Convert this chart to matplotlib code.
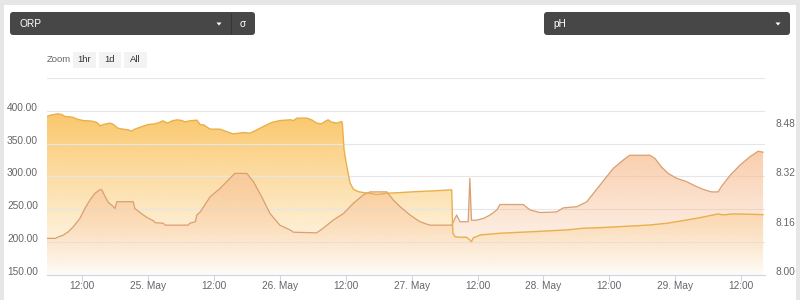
import numpy as np
import pandas as pd
import matplotlib
matplotlib.use('Agg')
import matplotlib.pyplot as plt
import matplotlib.dates as mdates
import matplotlib.ticker as mticker
import matplotlib.transforms as mtransforms
from matplotlib.patches import FancyBboxPatch, Polygon, Rectangle

plt.rcParams['font.family'] = ['Liberation Sans', 'DejaVu Sans']

# Data (hours counted from 24 May 00:00)
orp_hours = [5.6, 6.2, 7.6, 8.3, 8.9, 10.2, 11.1, 12.2, 13.8, 14.7, 15.3, 15.8, 17.1, 17.6, 18.5,
             19.4, 20.4, 21.0, 21.6, 22.9, 24.0, 25.3, 26.2, 26.7, 27.5, 28.4, 29.3, 30.2, 30.7, 31.6,
             32.9, 33.5, 34.1, 35.3, 37.1, 38.3, 39.5, 41.4, 42.6, 43.8, 45.0, 46.5, 48.0, 49.9, 50.5,
             51.1, 52.9, 53.8, 54.7, 55.6, 56.2, 56.8, 57.4, 58.4, 59.3, 59.4, 59.7, 60.2, 60.8, 61.4,
             62.3, 63.2, 64.4, 65.6, 67.5, 69.9, 72.9, 75.9, 79.0, 79.3, 79.5, 79.9, 80.8, 82.0, 82.6,
             82.9, 83.2, 84.5, 88.1, 94.1, 100.2, 103.2, 106.3, 112.3, 115.4, 118.5, 121.4, 124.5, 127.8,
             128.7, 130.5, 133.6, 136.0]
orp_values = [391.3, 393.4, 395.4, 394.4, 391.3, 390.4, 387.3, 385.2, 384.3, 382.2, 377.1, 379.1, 381.3, 379.7, 373.6,
              372.1, 371.0, 369.1, 372.1, 376.1, 379.1, 380.2, 382.8, 384.8, 381.3, 384.8, 386.3, 385.2, 383.2, 384.8,
              385.8, 379.0, 378.7, 372.1, 372.1, 368.4, 364.9, 366.9, 366.0, 371.0, 376.1, 382.2, 385.2, 386.3, 385.2,
              388.9, 388.9, 386.3, 381.3, 380.2, 383.7, 386.3, 382.8, 381.3, 383.7, 378.7, 340.5, 315.1, 289.8, 280.6,
              277.0, 275.5, 274.5, 272.5, 274.5, 275.5, 277.0, 278.1, 279.6, 279.6, 214.0, 208.4, 207.5, 207.5, 203.4,
              200.8, 206.4, 211.0, 213.6, 216.0, 218.6, 221.2, 222.1, 224.7, 226.2, 228.8, 232.8, 237.3, 243.0,
              241.5, 243.0, 242.5, 241.9]

ph_hours = [5.6, 7.1, 7.7, 8.6, 9.5, 10.4, 11.6, 12.5, 13.4, 14.3, 15.3, 15.6, 16.2, 16.8, 17.4,
            18.0, 18.3, 21.3, 21.6, 22.9, 23.8, 25.0, 25.3, 26.8, 27.1, 31.3, 31.6, 32.6, 32.9, 33.5,
            35.3, 37.1, 38.9, 39.8, 42.0, 43.2, 44.7, 46.2, 48.0, 49.9, 50.5, 54.7, 55.9, 57.7, 59.6,
            61.4, 63.2, 64.4, 67.5, 68.7, 69.9, 71.7, 73.5, 75.3, 79.3, 80.2, 80.8, 82.3, 82.6, 82.9,
            83.8, 85.1, 86.3, 87.5, 88.1, 92.3, 93.6, 95.4, 98.4, 99.6, 102.1, 103.9, 106.3, 107.5, 108.7,
            110.5, 111.7, 115.4, 116.3, 117.5, 118.7, 120.3, 122.1, 123.9, 125.1, 126.6, 127.8, 128.4, 130.0,
            131.8, 133.6, 135.1, 136.0]
ph_values = [8.119, 8.119, 8.124, 8.130, 8.141, 8.157, 8.184, 8.216, 8.243, 8.265, 8.278, 8.276, 8.254, 8.235, 8.227,
             8.216, 8.238, 8.238, 8.216, 8.198, 8.187, 8.176, 8.170, 8.168, 8.162, 8.162, 8.168, 8.173, 8.195, 8.205,
             8.254, 8.281, 8.314, 8.330, 8.330, 8.303, 8.254, 8.200, 8.162, 8.146, 8.139, 8.137, 8.152, 8.178, 8.200,
             8.233, 8.260, 8.270, 8.270, 8.243, 8.222, 8.195, 8.173, 8.162, 8.162, 8.195, 8.173, 8.173, 8.314, 8.178,
             8.178, 8.184, 8.195, 8.211, 8.229, 8.229, 8.211, 8.203, 8.205, 8.218, 8.222, 8.238, 8.292, 8.319, 8.346,
             8.373, 8.389, 8.389, 8.379, 8.351, 8.330, 8.314, 8.303, 8.287, 8.278, 8.270, 8.270, 8.287, 8.324,
             8.357, 8.384, 8.402, 8.399]

orp_ticks = [150, 200, 250, 300, 350, 400, 450]
ph_ticks = [8.00, 8.16, 8.32, 8.48, 8.64]

start = pd.Timestamp('2021-05-24')
orp_x = mdates.date2num(start + pd.to_timedelta(orp_hours, unit='h'))
ph_x = mdates.date2num(start + pd.to_timedelta(ph_hours, unit='h'))
orp_y = np.array(orp_values)
ph_y = np.array(ph_values)

x_min = mdates.date2num(start + pd.Timedelta(hours=5.6))
x_max = mdates.date2num(start + pd.Timedelta(hours=136.35))


def gradient_area(axis, x, y, base, rgb, a_top, a_bot, z):
    poly = axis.fill_between(x, y, base, facecolor='none', edgecolor='none')
    path = poly.get_paths()[0]
    grad = np.zeros((256, 1, 4))
    grad[:, :, :3] = np.array(rgb) / 255.0
    grad[:, 0, 3] = np.linspace(a_top, a_bot, 256)
    im = axis.imshow(grad, extent=[x.min(), x.max(), base, y.max()], origin='upper',
                     aspect='auto', zorder=z, interpolation='bilinear')
    im.set_clip_path(path, transform=axis.transData)


fig = plt.figure(figsize=(8, 3), dpi=100)
fig.patch.set_facecolor('#e6e6e6')

# page / widgets layer in pixel coordinates
ui = fig.add_axes([0, 0, 1, 1], zorder=0)
ui.set_xlim(0, 800)
ui.set_ylim(300, 0)
ui.axis('off')
ui.add_patch(Rectangle((4, 5), 792, 300, facecolor='white', edgecolor='none'))

for x0, w, label in [(10, 245, 'ORP'), (544, 246, 'pH')]:
    ui.add_patch(FancyBboxPatch((x0, 12), w, 23, boxstyle='round,pad=0,rounding_size=3',
                                facecolor='#474747', edgecolor='none'))
    ui.text(x0 + 9, 24, label, color='white', fontsize=7.3, va='center', ha='left')
ui.add_patch(Polygon([[216.5, 22.5], [221.5, 22.5], [219, 25.5]], closed=True, facecolor='white', edgecolor='none'))
ui.add_patch(Polygon([[775.5, 22.5], [780.5, 22.5], [778, 25.5]], closed=True, facecolor='white', edgecolor='none'))
ui.plot([231, 231], [13, 34], color='#363636', lw=0.8, solid_capstyle='butt')
ui.text(243, 24, 'σ', color='white', fontsize=7.3, va='center', ha='center')

ui.text(47, 60, 'Zoom', color='#666666', fontsize=6.8, va='center', ha='left')
for x0, w, label in [(73, 23, '1hr'), (99, 22, '1d'), (124, 23, 'All')]:
    ui.add_patch(Rectangle((x0, 52), w, 16, facecolor='#f3f3f3', edgecolor='none'))
    ui.text(x0 + w / 2, 60, label, color='#333333', fontsize=6.8, va='center', ha='center')

# chart
ax = fig.add_axes([47 / 800, 25 / 300, 718 / 800, 197 / 300], zorder=1)
ax.patch.set_alpha(0)
ax2 = ax.twinx()

gradient_area(ax, orp_x, orp_y, 150, (250, 192, 88), 0.88, 0.02, 1)
gradient_area(ax2, ph_x, ph_y, 8.0, (248, 192, 150), 0.78, 0.03, 1)
ax2.plot(ph_x, ph_y, color='#d9a070', lw=0.9, zorder=3)
ax2.plot(orp_x, orp_y, color='#e9b04a', lw=1.0, zorder=4, transform=ax.transData)

ax.set_xlim(x_min, x_max)
ax.set_ylim(150, 450)
ax2.set_ylim(8.0, 8.64)
ax.set_yticks(orp_ticks)
ax2.set_yticks(ph_ticks)
ax.yaxis.set_major_formatter(mticker.FuncFormatter(lambda v, p: '' if v > 400 else f'{v:.2f}'))
ax2.yaxis.set_major_formatter(mticker.FuncFormatter(lambda v, p: '' if v > 8.5 else f'{v:.2f}'))

ax.xaxis.set_major_locator(mdates.HourLocator(byhour=[0, 12]))
ax.xaxis.set_major_formatter(mticker.FuncFormatter(
    lambda v, p: mdates.num2date(v).strftime('%d. %b').lstrip('0') if mdates.num2date(v).hour == 0
    else mdates.num2date(v).strftime('%H:%M')))

ax.grid(axis='y', color='#e6e6e6', lw=0.8)
ax.set_axisbelow(False)
for a in (ax, ax2):
    for s in a.spines.values():
        s.set_visible(False)
ax.spines['bottom'].set_visible(True)
ax.spines['bottom'].set_color('#ccd6eb')
ax.spines['bottom'].set_linewidth(0.8)

ax.tick_params(axis='x', length=4, width=0.8, color='#ccd6eb', labelsize=7.3, labelcolor='#666666', pad=0.5)
ax.tick_params(axis='y', length=0, labelsize=7.3, labelcolor='#666666', pad=6.5)
ax2.tick_params(axis='y', length=0, labelsize=7.3, labelcolor='#666666', pad=7.5)

shift = mtransforms.ScaledTranslation(0, 4 / 100, fig.dpi_scale_trans)
for lab in ax.get_yticklabels() + ax2.get_yticklabels():
    lab.set_transform(lab.get_transform() + shift)

fig.savefig('out.png', dpi=100, facecolor=fig.get_facecolor())
